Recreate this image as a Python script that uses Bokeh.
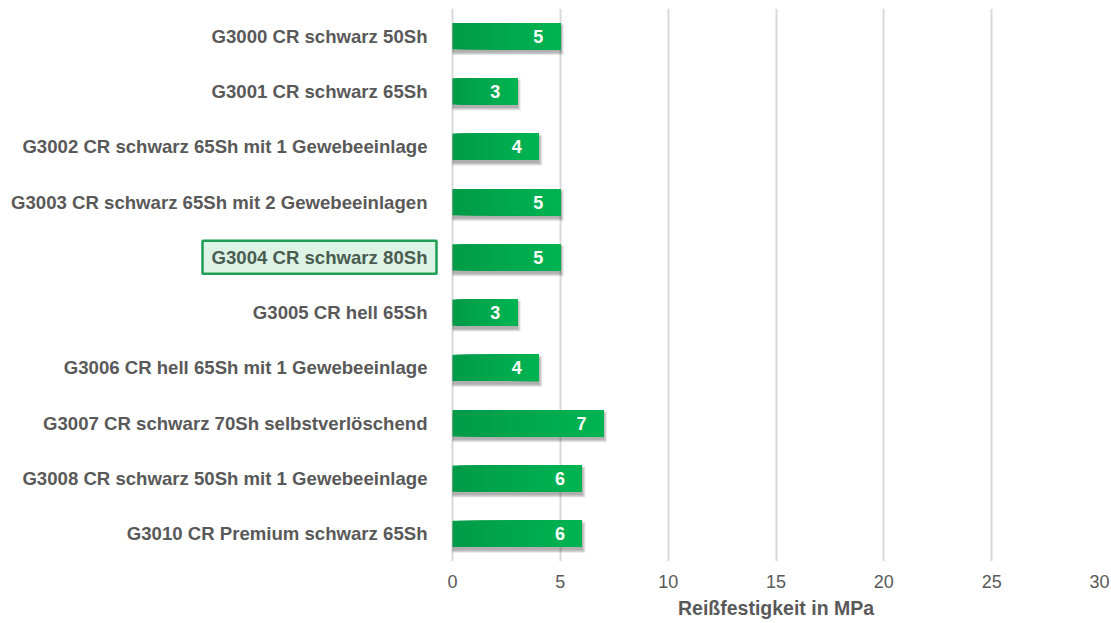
from bokeh.plotting import figure
from bokeh.models import FactorRange, Range1d, FixedTicker, ColumnDataSource, Title
from bokeh.transform import dodge
from bokeh.embed import file_html
from bokeh.resources import INLINE
from bokeh.core.properties import value

categories = [
    "G3000 CR schwarz 50Sh",
    "G3001 CR schwarz 65Sh",
    "G3002 CR schwarz 65Sh mit 1 Gewebeeinlage",
    "G3003 CR schwarz 65Sh mit 2 Gewebeeinlagen",
    "G3004 CR schwarz 80Sh",
    "G3005 CR hell 65Sh",
    "G3006 CR hell 65Sh mit 1 Gewebeeinlage",
    "G3007 CR schwarz 70Sh selbstverlöschend",
    "G3008 CR schwarz 50Sh mit 1 Gewebeeinlage",
    "G3010 CR Premium schwarz 65Sh",
]
values = [5, 3, 4, 5, 5, 3, 4, 7, 6, 6]
highlight = "G3004 CR schwarz 80Sh"
x_ticks = [0, 5, 10, 15, 20, 25, 30]
x_max = 30
x_title = "Reißfestigkeit in MPa"

FONT = "Liberation Sans, Arial, sans-serif"
GRAY = "#595959"
BAR_H = 0.475

W, H = 1111, 623
ZERO_PX, END_PX = 452, 1099          # where 0 and x_max sit in the frame
px_per_unit = (END_PX - ZERO_PX) / x_max
x_start = -ZERO_PX / px_per_unit

factors = categories[::-1]
p = figure(width=W, height=H, y_range=FactorRange(factors=factors),
           x_range=Range1d(x_start, x_max), output_backend="svg",
           toolbar_location=None,
           min_border_left=0, min_border_right=W - END_PX, min_border_top=8,
           min_border_bottom=61)
p.outline_line_color = None
p.ygrid.visible = False
p.yaxis.visible = False
p.xgrid.grid_line_color = "#D9D9D9"
p.xgrid.grid_line_width = 2
p.xgrid.ticker = FixedTicker(ticks=x_ticks)

xa = p.xaxis[0]
xa.ticker = FixedTicker(ticks=x_ticks)
xa.axis_line_color = None
xa.major_tick_line_color = None
xa.minor_tick_line_color = None
xa.major_tick_out = 0
xa.major_label_text_font = FONT
xa.major_label_text_font_size = "18px"
xa.major_label_text_color = GRAY
xa.major_label_standoff = 13

title_w = 196
p.add_layout(Title(text=x_title, align="left", offset=(ZERO_PX + END_PX) / 2 - title_w / 2,
                   text_font=FONT, text_font_size="19.5px", text_font_style="bold",
                   text_color=GRAY, standoff=9), "below")

# shadow layers
for k in range(4):
    src = ColumnDataSource(dict(cat=categories,
                                r=[v + 0.04 * (k + 1) for v in values]))
    p.hbar(y=dodge("cat", -0.06, range=p.y_range), left=0, right="r",
           height=BAR_H + 0.03 * k, source=src,
           fill_color="black", fill_alpha=0.085, line_color=None)

# gradient bars
N = 24
c0 = (0, 155, 72)
c1 = (0, 180, 82)
seg_cat, seg_left, seg_right, seg_col = [], [], [], []
for c, v in zip(categories, values):
    for i in range(N):
        t = i / (N - 1)
        col = "#%02x%02x%02x" % tuple(int(round(a + (b - a) * t)) for a, b in zip(c0, c1))
        seg_cat.append(c)
        seg_left.append(v * i / N)
        seg_right.append(v)
        seg_col.append(col)
p.hbar(y="cat", left="l", right="r", height=BAR_H,
       source=ColumnDataSource(dict(cat=seg_cat, l=seg_left, r=seg_right, col=seg_col)),
       fill_color="col", line_color=None)

# value labels
p.text(x="v", y="cat", text="t", source=ColumnDataSource(
    dict(v=values, cat=categories, t=[str(v) for v in values])),
    x_offset=-22, y_offset=0, text_align="center", text_baseline="middle",
    text_font=value(FONT), text_font_size="18px", text_font_style="bold",
    text_color="white")

# category labels
normal = [c for c in categories if c != highlight]
p.text(x=0, y="cat", text="cat", source=ColumnDataSource(dict(cat=normal)),
       x_offset=-25, y_offset=0, text_align="right", text_baseline="middle",
       text_font=value(FONT), text_font_size="18.6px", text_font_style="bold",
       text_color=GRAY)

# highlighted category label in a box
p.text(x=0, y="cat", text="cat", source=ColumnDataSource(dict(cat=[highlight])),
       x_offset=-16, y_offset=0, text_align="right", text_baseline="middle",
       text_font=value(FONT), text_font_size="18.6px", text_font_style="bold",
       text_color="#4A5C50", background_fill_color="#DCF3E5",
       border_line_color="#1F9D55", border_line_width=2.5, padding=(9, 6))

open("out.html", "w").write(file_html(p, INLINE))
